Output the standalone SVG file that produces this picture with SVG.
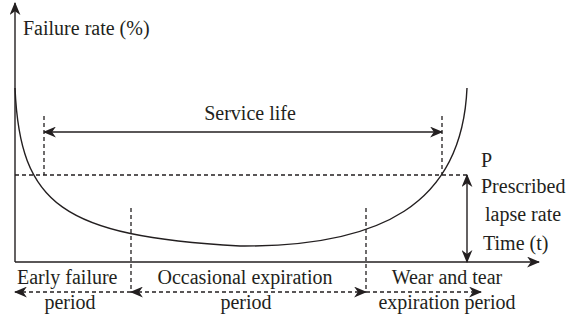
<svg xmlns="http://www.w3.org/2000/svg" width="571" height="321" viewBox="0 0 571 321">
  <defs>
    <marker id="head" viewBox="0 0 12 10" markerWidth="13" markerHeight="11" refX="11" refY="5" orient="auto-start-reverse" markerUnits="userSpaceOnUse">
      <path d="M0,0 L12,5 L0,10 L3.5,5 z" fill="#231f20"/>
    </marker>
  </defs>
  <style>
    .ln { stroke: #231f20; stroke-width: 1.4; fill: none; }
    .dash { stroke: #231f20; stroke-width: 1.3; fill: none; stroke-dasharray: 4 3; }
    .lbl { font-family: "Liberation Serif", "Times New Roman", serif; font-size: 20px; fill: #231f20; }
  </style>

  <!-- axes -->
  <g id="axes">
    <line class="ln" x1="15" y1="262" x2="15" y2="3" marker-end="url(#head)"/>
    <line class="ln" x1="15" y1="262" x2="539" y2="262" marker-end="url(#head)"/>
    <text class="lbl" x="23" y="35">Failure rate (%)</text>
    <text class="lbl" x="483" y="250">Time (t)</text>
  </g>

  <!-- bathtub curve -->
  <g id="curve">
    <path class="ln" d="M15,88 C20,205 62,236 240,246 C380,247 462,205 467,88"/>
  </g>

  <!-- service life / prescribed lapse rate -->
  <g id="service-life">
    <text class="lbl" x="250" y="120" text-anchor="middle">Service life</text>
  </g>
  <g id="lapse-rate">
    <text class="lbl" x="481" y="167">P</text>
    <text class="lbl" x="481" y="193">Prescribed</text>
    <text class="lbl" x="485" y="221">lapse rate</text>
  </g>

  <!-- periods -->
  <g id="early">
    <text class="lbl" x="17" y="284">Early failure</text>
    <text class="lbl" x="70" y="309" text-anchor="middle">period</text>
  </g>
  <g id="occasional">
    <text class="lbl" x="245" y="284" text-anchor="middle">Occasional expiration</text>
    <text class="lbl" x="246" y="309" text-anchor="middle">period</text>
  </g>
  <g id="wear">
    <text class="lbl" x="447" y="284" text-anchor="middle">Wear and tear</text>
    <text class="lbl" x="447" y="309" text-anchor="middle">expiration period</text>
  </g>

  <!-- connectors -->
  <g id="connectors">
    <line class="ln" x1="44" y1="132" x2="442" y2="132" marker-start="url(#head)" marker-end="url(#head)"/>
    <line class="dash" x1="44" y1="116" x2="44" y2="175"/>
    <line class="dash" x1="442" y1="116" x2="442" y2="175"/>
    <line class="dash" x1="15" y1="175" x2="470" y2="175"/>
    <line class="ln" x1="467" y1="262" x2="467" y2="175" marker-start="url(#head)" marker-end="url(#head)"/>
    <line class="dash" x1="131" y1="208" x2="131" y2="292"/>
    <line class="dash" x1="366" y1="208" x2="366" y2="292"/>
    <line class="dash" x1="131" y1="292" x2="15" y2="292" marker-end="url(#head)"/>
    <line class="dash" x1="366" y1="292" x2="131" y2="292" marker-start="url(#head)" marker-end="url(#head)"/>
    <line class="dash" x1="366" y1="292" x2="481" y2="292" marker-end="url(#head)"/>
  </g>
</svg>
